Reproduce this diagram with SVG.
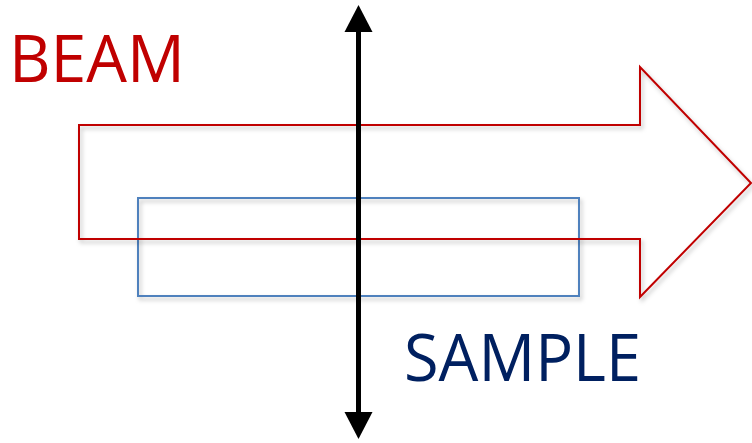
<svg xmlns="http://www.w3.org/2000/svg" width="752" height="443" viewBox="0 0 752 443">
<style>
.lbl{font-family:"Open Sans","Liberation Sans",sans-serif;font-size:66px}
</style>
<defs>
<filter id="sh" x="-10%" y="-10%" width="120%" height="120%">
<feDropShadow dx="2" dy="3" stdDeviation="2" flood-color="#000" flood-opacity="0.25"/>
</filter>
<marker id="ah" viewBox="0 0 28 27" refX="1" refY="13.5" markerWidth="28" markerHeight="27" markerUnits="userSpaceOnUse" orient="auto-start-reverse">
<path d="M0,0 L27,13.5 L0,27 Z" fill="#000"/>
</marker>
</defs>
<rect width="752" height="443" fill="#fff"/>
<g id="sample" filter="url(#sh)">
<rect x="138" y="198" width="441" height="98" fill="none" stroke="#4F81BD" stroke-width="2"/>
</g>
<g id="beam" filter="url(#sh)">
<path d="M79,125 L640,125 L640,67 L751,183 L640,297 L640,239 L79,239 Z" fill="none" stroke="#C00000" stroke-width="2" stroke-linejoin="miter"/>
</g>
<g id="connectors">
<line x1="358.5" y1="32" x2="358.5" y2="412" stroke="#000" stroke-width="5"/>
<path d="M344.5,32 L358.5,5 L372.5,32 Z" fill="#000"/>
<path d="M344.5,412 L358.5,439 L372.5,412 Z" fill="#000"/>
</g>
<g id="labels">
<text class="lbl" x="9" y="82" fill="#C00000" textLength="176" lengthAdjust="spacingAndGlyphs">BEAM</text>
<text class="lbl" x="404" y="381" fill="#002060" textLength="237" lengthAdjust="spacingAndGlyphs">SAMPLE</text>
</g>
</svg>
